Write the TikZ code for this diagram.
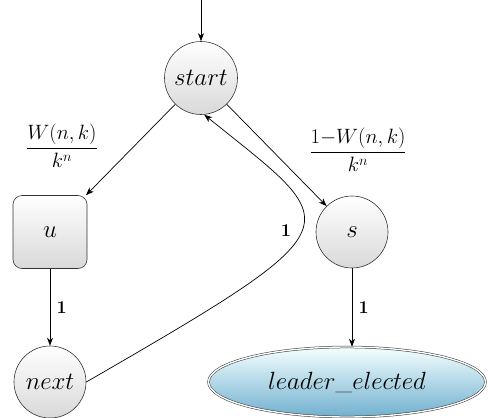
\documentclass[tikz,border=0pt]{standalone}
\usetikzlibrary{arrows.meta,shapes.geometric}
\begin{document}
\begin{tikzpicture}[x=1pt,y=-1pt,
  state/.style={circle,draw=black!80,line width=0.6pt,top color=white,bottom color=black!15,minimum size=73pt,inner sep=0pt,font=\fontsize{24}{28}\selectfont},
  boxstate/.style={rounded corners=9pt,draw=black!80,line width=0.6pt,top color=white,bottom color=black!15,minimum width=74pt,minimum height=73pt,inner sep=0pt,font=\fontsize{24}{28}\selectfont},
  finalstate/.style={ellipse,draw=black!80,double,double distance=1.4pt,line width=0.5pt,top color=blue!3!cyan!4!white,bottom color=lbbot,minimum width=277pt,minimum height=70pt,inner sep=0pt,font=\fontsize{24}{28}\selectfont},
  trans/.style={-{Stealth[length=8pt,width=6pt,inset=2.5pt]},line width=0.7pt},
  lab/.style={font=\fontsize{20}{24}\selectfont},
  one/.style={font=\fontsize{18}{22}\selectfont\bfseries}
]
\definecolor{lbbot}{RGB}{112,176,207}
\useasboundingbox (0,0) rectangle (488,418);
\coordinate (in) at (201,0);
\node[state] (start) at (201,78) {$start$};
\node[boxstate] (u) at (50,232) {$u$};
\node[state,minimum size=72pt] (s) at (352,232) {$s$};
\node[state,minimum size=72pt] (next) at (50,382) {$next$};
\node[finalstate] (le) at (347,382) {$leader\_elected$};

\draw[trans] (in) -- (start);
\draw[trans] (start) -- (u);
\draw[trans] (start) -- (s);
\draw[trans] (u) -- node[one,right=3pt] {1} (next);
\draw[trans] (s) -- node[one,right=3pt] {1} (s |- le.north);
\draw[trans] (next.east) .. controls +(277,-160) and +(140,113) .. node[one,pos=0.5,left=7pt] {1} (start.-85);

\node[lab] (l1) at (62,146) {$\displaystyle\frac{W(n,k)}{k^n}$};
\node[lab] (l2) at (358,150) {$\displaystyle\frac{1{-}W(n,k)}{k^n}$};
\end{tikzpicture}
\end{document}
